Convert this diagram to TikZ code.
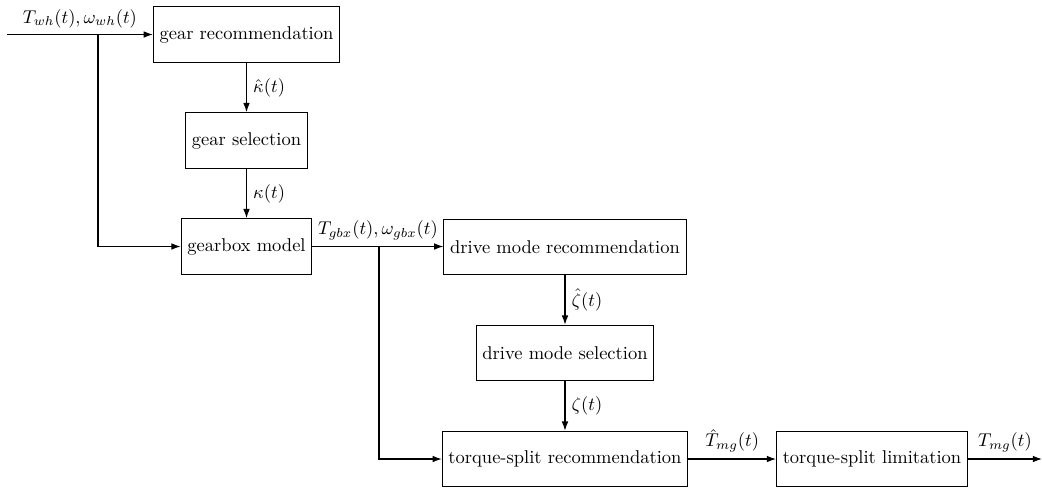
\documentclass[tikz,border=0pt]{standalone}
\usetikzlibrary{arrows.meta}
\begin{document}
\begin{tikzpicture}[x=0.5405pt,y=-0.5405pt,
  blk/.style={draw,line width=0.6pt,minimum height=30pt,inner sep=3.33pt},
  conn/.style={line width=0.6pt,-{Latex[length=5pt,width=3.6pt]}},
  plain/.style={line width=0.6pt}]
\useasboundingbox (0,0) rectangle (1042,488);
\node[blk] (gr) at (246.5,34.5) {gear recommendation};
\node[blk] (gs) at (246.5,140.5) {gear selection};
\node[blk] (gm) at (246.5,246.5) {gearbox model};
\node[blk] (dmr) at (565,247) {drive mode recommendation};
\node[blk] (dms) at (565,353) {drive mode selection};
\node[blk] (tsr) at (565,459) {torque-split recommendation};
\node[blk] (tsl) at (872,459) {torque-split limitation};
\coordinate (in) at (7,34.5);
\coordinate (b1) at (98,34.5);
\coordinate (b2) at (379,246.5);
\coordinate (out) at (1042,459);
\draw[conn] (in) -- node[above] {$T_{wh}(t),\omega_{wh}(t)$} (gr.west);
\draw[conn] (b1) |- (gm.west);
\draw[conn] (gr) -- node[right] {$\hat{\kappa}(t)$} (gs);
\draw[conn] (gs) -- node[right] {$\kappa(t)$} (gm);
\draw[conn] (gm.east) -- node[above] {$T_{gbx}(t),\omega_{gbx}(t)$} (gm.east -| dmr.west);
\draw[conn] (b2) |- (tsr.west);
\draw[conn] (dmr) -- node[right] {$\hat{\zeta}(t)$} (dms);
\draw[conn] (dms) -- node[right] {$\zeta(t)$} (tsr);
\draw[conn] (tsr) -- node[above] {$\hat{T}_{mg}(t)$} (tsl);
\draw[conn] (tsl) -- node[above] {$T_{mg}(t)$} (out);
\end{tikzpicture}
\end{document}
